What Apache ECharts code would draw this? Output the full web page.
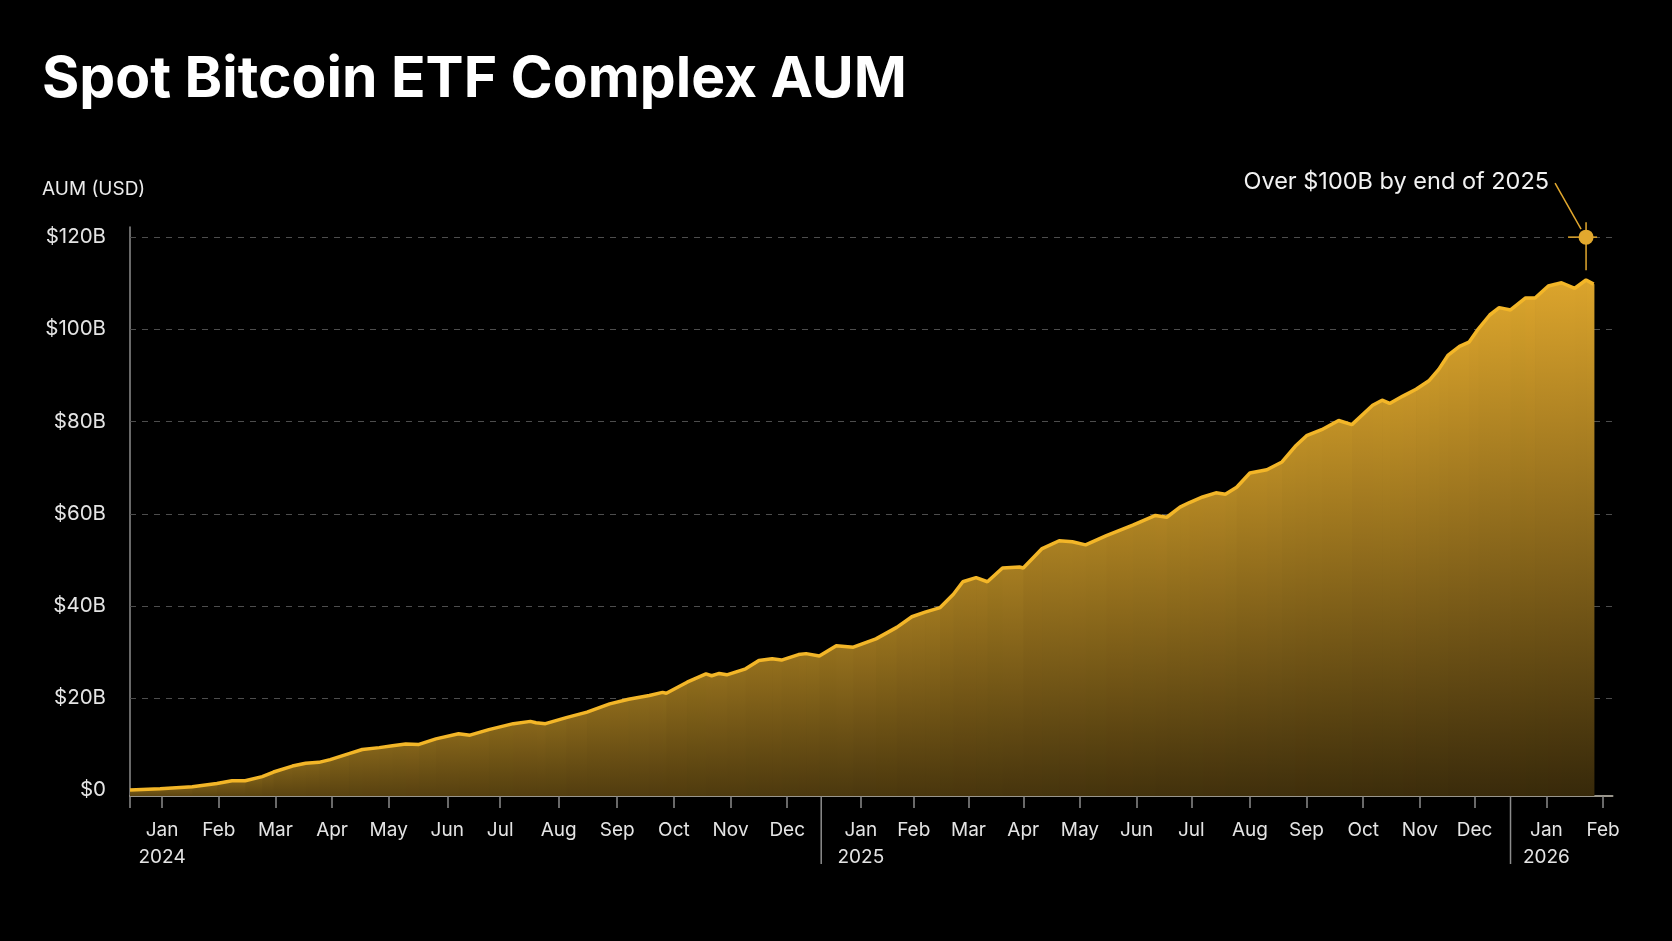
<!DOCTYPE html>
<html>
<head>
<meta charset="utf-8">
<script src="https://cdn.jsdelivr.net/npm/echarts@6/dist/echarts.min.js"></script>
<style>
  html, body { margin: 0; padding: 0; background: #000; }
  #chart { width: 1672px; height: 941px; }
</style>
</head>
<body>
<div id="chart"></div>
<script>
// ---- data (AUM in USD billions) ----
const dates = [
  '2024-01-01','2024-01-17','2024-02-03','2024-02-16','2024-02-24','2024-03-02','2024-03-11','2024-03-17',
  '2024-03-27','2024-04-03','2024-04-10','2024-04-16','2024-04-26','2024-05-03','2024-05-12','2024-05-19',
  '2024-05-26','2024-06-02','2024-06-11','2024-06-23','2024-06-29','2024-07-09','2024-07-22','2024-07-31',
  '2024-08-03','2024-08-08','2024-08-19','2024-08-30','2024-09-11','2024-09-21','2024-10-02','2024-10-09',
  '2024-10-11','2024-10-22','2024-11-01','2024-11-04','2024-11-08','2024-11-12','2024-11-22','2024-11-29',
  '2024-12-06','2024-12-11','2024-12-20','2024-12-24','2024-12-31','2025-01-09','2025-01-18','2025-01-30',
  '2025-02-10','2025-02-18','2025-02-25','2025-03-05','2025-03-12','2025-03-17','2025-03-24','2025-03-30',
  '2025-04-07','2025-04-16','2025-04-18','2025-04-28','2025-05-07','2025-05-14','2025-05-21','2025-06-01',
  '2025-06-15','2025-06-27','2025-07-03','2025-07-10','2025-07-15','2025-07-22','2025-07-29','2025-08-03',
  '2025-08-09','2025-08-16','2025-08-25','2025-09-02','2025-09-09','2025-09-15','2025-09-23','2025-10-02',
  '2025-10-09','2025-10-20','2025-10-25','2025-10-29','2025-11-05','2025-11-12','2025-11-19','2025-11-24',
  '2025-11-29','2025-12-05','2025-12-10','2025-12-15','2025-12-21','2025-12-26','2026-01-01','2026-01-09',
  '2026-01-14','2026-01-21','2026-01-28','2026-02-04','2026-02-10','2026-02-14'
];
const aumB = [
  0.0, 0.3, 0.7, 1.4, 2.0, 2.0, 2.9, 3.9,
  5.2, 5.8, 6.0, 6.6, 7.9, 8.8, 9.2, 9.6,
  10.0, 9.9, 11.1, 12.2, 11.9, 13.1, 14.4, 14.9,
  14.6, 14.4, 15.7, 16.9, 18.7, 19.7, 20.5, 21.2,
  21.0, 23.4, 25.2, 24.8, 25.3, 25.0, 26.3, 28.1,
  28.5, 28.2, 29.4, 29.6, 29.1, 31.3, 31.0, 32.8,
  35.3, 37.6, 38.6, 39.6, 42.5, 45.2, 46.1, 45.2,
  48.2, 48.4, 48.2, 52.4, 54.1, 53.9, 53.2, 55.2,
  57.5, 59.6, 59.2, 61.4, 62.4, 63.6, 64.5, 64.2,
  65.7, 68.8, 69.5, 71.2, 74.6, 76.9, 78.2, 80.2,
  79.3, 83.5, 84.6, 83.9, 85.5, 87.0, 88.9, 91.3,
  94.4, 96.3, 97.2, 100.1, 103.1, 104.7, 104.2, 106.8,
  106.8, 109.4, 110.1, 108.9, 110.7, 109.8
];
const yTicks = [0, 20, 40, 60, 80, 100, 120];
const yGridLines = [20, 40, 60, 80, 100, 120];
const monthNames = ['Jan','Feb','Mar','Apr','May','Jun','Jul','Aug','Sep','Oct','Nov','Dec'];
const monthTickDates = [
  '2024-01-18','2024-02-17','2024-03-18','2024-04-17','2024-05-17','2024-06-17','2024-07-15','2024-08-15',
  '2024-09-15','2024-10-15','2024-11-14','2024-12-14','2025-01-22','2025-02-19','2025-03-20','2025-04-18',
  '2025-05-18','2025-06-17','2025-07-16','2025-08-16','2025-09-15','2025-10-15','2025-11-14','2025-12-13',
  '2026-01-20','2026-02-19'
];
const yearBreaks = ['2025-01-01', '2026-01-01'];
const axisStart = '2024-01-01';
const axisEnd = '2026-02-24';
const noteDate = '2026-02-10';
const noteValue = 120;
const noteText = 'Over $100B by end of 2025';

// ---- build ----
const ts = s => Date.parse(s);
const seriesData = dates.map((d, i) => [ts(d), aumB[i]]);
const segData = seriesData.slice(0, -1).map((p, i) => [p[0], p[1], seriesData[i + 1][0], seriesData[i + 1][1]]);
const yMin = -1.3, yMax = 122.2;
const peak = Math.max.apply(null, aumB);
const FONT = 'Inter, "Noto Sans", sans-serif';

const lerp = (a, b, t) => a.map((v, k) => Math.round(v + (b[k] - v) * t));
const rgb = c => 'rgb(' + c.join(',') + ')';
const TOP_LOW = [124, 94, 24], TOP_HIGH = [220, 165, 44];
const BOT_LEFT = [94, 70, 17], BOT_RIGHT = [54, 40, 10];

const chart = echarts.init(document.getElementById('chart'), null, { renderer: 'canvas' });
chart.setOption({
  backgroundColor: '#000',
  animation: false,
  title: [
    {
      text: 'Spot Bitcoin ETF Complex AUM',
      left: 42, top: 51, padding: 0,
      textStyle: { color: '#fff', fontFamily: FONT, fontSize: 57, fontWeight: 'bold', letterSpacing: -1.5 }
    },
    {
      text: 'AUM (USD)',
      left: 42, top: 180, padding: 0,
      textStyle: { color: '#ececec', fontFamily: FONT, fontSize: 19, fontWeight: 'normal' }
    }
  ],
  grid: { left: 130, right: 59.5, top: 227, bottom: 145, containLabel: false },
  xAxis: {
    type: 'value',
    min: ts(axisStart), max: ts(axisEnd),
    axisLine: { show: true, onZero: false, lineStyle: { color: '#9a968c', width: 2 } },
    axisTick: {
      show: true, length: 12, inside: false,
      customValues: [ts(axisStart)].concat(monthTickDates.map(ts)),
      lineStyle: { color: '#8c8c8c', width: 1.5 }
    },
    axisLabel: {
      customValues: monthTickDates.map(ts),
      color: '#e4e4e4', fontFamily: FONT, fontSize: 19, lineHeight: 27, margin: 21,
      formatter: v => {
        const d = new Date(v);
        const m = d.getUTCMonth();
        return m === 0 ? monthNames[m] + '\n' + d.getUTCFullYear() : monthNames[m];
      }
    },
    splitLine: { show: false }
  },
  yAxis: {
    type: 'value',
    min: yMin, max: yMax,
    axisLine: { show: true, lineStyle: { color: '#8c8c8c', width: 1.5 } },
    axisTick: { show: false, customValues: yTicks },
    axisLabel: {
      customValues: yTicks,
      color: '#e4e4e4', fontFamily: FONT, fontSize: 20.5, letterSpacing: 0.9, margin: 24,
      formatter: v => '$' + v + (v === 0 ? '' : 'B')
    },
    splitLine: { show: false }
  },
  series: [
    {
      // dashed horizontal gridlines (not at $0), behind the area
      type: 'custom',
      silent: true,
      data: yGridLines.map(v => [ts(axisStart), v]),
      renderItem: (params, api) => {
        const p = api.coord([api.value(0), api.value(1)]);
        const cs = params.coordSys;
        return {
          type: 'line',
          shape: { x1: cs.x, y1: Math.round(p[1]) + 0.5, x2: cs.x + cs.width, y2: Math.round(p[1]) + 0.5 },
          style: { stroke: '#4d4d4d', lineWidth: 1, lineDash: [6, 6] }
        };
      },
      z: 1
    },
    {
      // area fill: one column per segment, gradient from the line down to the axis
      type: 'custom',
      silent: true,
      data: segData,
      renderItem: (params, api) => {
        const a = api.coord([api.value(0), api.value(1)]);
        const b = api.coord([api.value(2), api.value(3)]);
        const base = api.coord([api.value(0), yMin])[1];
        const cs = params.coordSys;
        const topY = Math.min(a[1], b[1]);
        const vMid = (api.value(1) + api.value(3)) / 2;
        const topC = lerp(TOP_LOW, TOP_HIGH, Math.max(0, Math.min(1, vMid / peak)));
        const botC = lerp(BOT_LEFT, BOT_RIGHT, (a[0] - cs.x) / cs.width);
        return {
          type: 'polygon',
          shape: { points: [[a[0], a[1]], [b[0] + 0.8, b[1]], [b[0] + 0.8, base], [a[0], base]] },
          style: {
            fill: new echarts.graphic.LinearGradient(0, topY, 0, base, [
              { offset: 0, color: rgb(topC) },
              { offset: 1, color: rgb(botC) }
            ], true)
          }
        };
      },
      z: 2
    },
    {
      type: 'line',
      data: seriesData,
      showSymbol: false,
      smooth: false,
      lineStyle: { color: '#f3b628', width: 3.5 },
      z: 3
    },
    {
      type: 'custom',
      clip: false,
      silent: true,
      data: yearBreaks.map(d => [ts(d), yMin]),
      renderItem: (params, api) => {
        const p = api.coord([api.value(0), api.value(1)]);
        return {
          type: 'line',
          shape: { x1: p[0], y1: p[1], x2: p[0], y2: p[1] + 68 },
          style: { stroke: '#8c8c8c', lineWidth: 1.5 }
        };
      },
      z: 5
    },
    {
      type: 'custom',
      clip: false,
      silent: true,
      data: [[ts(noteDate), noteValue]],
      renderItem: (params, api) => {
        const p = api.coord([api.value(0), api.value(1)]);
        const gold = '#e2a82e';
        return {
          type: 'group',
          children: [
            { type: 'line', shape: { x1: p[0], y1: p[1] - 15, x2: p[0], y2: p[1] + 33 },
              style: { stroke: gold, lineWidth: 1.5 } },
            { type: 'line', shape: { x1: p[0] - 18, y1: p[1], x2: p[0] + 11, y2: p[1] },
              style: { stroke: gold, lineWidth: 1.5 } },
            { type: 'line', shape: { x1: p[0] - 5, y1: p[1] - 8, x2: p[0] - 31, y2: p[1] - 54 },
              style: { stroke: gold, lineWidth: 1.5 } },
            { type: 'circle', shape: { cx: p[0], cy: p[1], r: 7.5 },
              style: { fill: gold } },
            { type: 'text', x: p[0] - 37, y: p[1] - 55,
              style: { text: noteText, fill: '#f2f2f2', font: '23.5px ' + FONT,
                       align: 'right', verticalAlign: 'middle' } }
          ]
        };
      },
      z: 6
    }
  ]
});
</script>
</body>
</html>
